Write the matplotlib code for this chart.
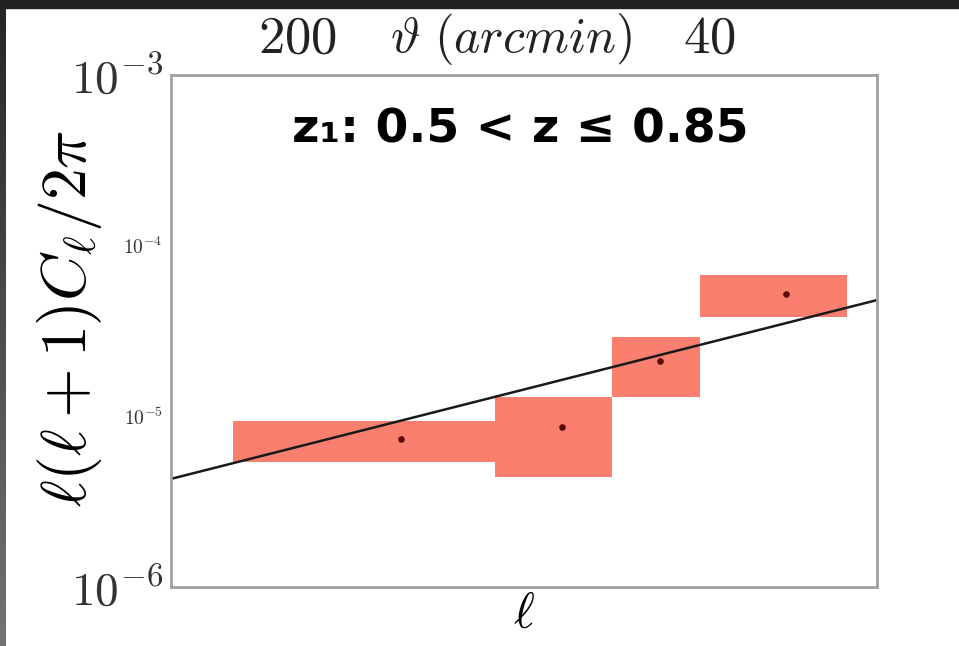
import matplotlib.pyplot as plt
import numpy as np

plt.rcParams['mathtext.fontset'] = 'cm'

# band-power bins in multipole ell
ell_edges = [42, 117, 185, 260, 463]
ell_centers = [81, 152, 223, 365]
cl_vals = [7.4e-6, 8.7e-6, 2.1e-5, 5.2e-5]
cl_lo = [5.4e-6, 4.4e-6, 1.3e-5, 3.8e-5]
cl_hi = [9.4e-6, 1.3e-5, 2.9e-5, 6.7e-5]

# theory curve
theory_ell = [33, 520]
theory_cl = [4.3e-6, 4.8e-5]

# top axis ticks (arcmin)
theta_ticks = [200, 40]

fig = plt.figure(figsize=(9.59, 6.46), dpi=100)
ax = fig.add_axes([171/959, 59/646, 706/959, 512/646])

# boxes
lefts = np.array(ell_edges[:-1])
widths = np.diff(ell_edges)
ax.bar(lefts, np.array(cl_hi) - np.array(cl_lo), bottom=cl_lo, width=widths,
       align='edge', color='#fa7f6f', edgecolor='none', zorder=1)
ax.scatter(ell_centers, cl_vals, s=14, color='#5a0a00', zorder=3)
ax.plot(theory_ell, theory_cl, color='#1a1a1a', lw=1.8, zorder=2)

ax.set_xscale('log')
ax.set_yscale('log')
ax.set_xlim(33, 520)
ax.set_ylim(1e-6, 1e-3)

ax.set_xticks([])
ax.set_xticks([], minor=True)
ax.set_yticks([1e-6, 1e-5, 1e-4, 1e-3])
ax.set_yticks([], minor=True)
ax.set_yticklabels([r'$10^{-6}$', r'$\mathbf{10^{-5}}$', r'$\mathbf{10^{-4}}$', r'$10^{-3}$'])
sizes = [34, 14, 14, 34]
for lab, s in zip(ax.get_yticklabels(), sizes):
    lab.set_fontsize(s)
    lab.set_color('#333333')
ax.tick_params(axis='y', length=0, pad=6)

for sp in ax.spines.values():
    sp.set_color('#a0a0a0')
    sp.set_linewidth(2)

ax.set_ylabel(r'$\ell(\ell+1)C_\ell/2\pi$', fontsize=46)
ax.yaxis.set_label_coords(-0.095, 0.525)
ax.set_xlabel(r'$\ell$', fontsize=36, labelpad=2)

# top axis in arcmin
sec = ax.secondary_xaxis('top', functions=(lambda l: 10800 / l, lambda t: 10800 / t))
sec.set_xticks(theta_ticks)
sec.set_xticks([], minor=True)
sec.set_xticklabels(['$%d$' % t for t in theta_ticks])
sec.tick_params(length=0, pad=8, labelsize=38)
for lab in sec.get_xticklabels():
    lab.set_color('#222222')
sec.spines['top'].set_visible(False)
ax.text(0.482, 1.07, r'$\vartheta\ (arcmin)$', transform=ax.transAxes,
        fontsize=36, ha='center', va='center', color='#222222')

ax.text(0.494, 0.893, 'z₁: 0.5 < z ≤ 0.85', transform=ax.transAxes,
        fontsize=34, fontweight='bold', ha='center', va='center',
        family='DejaVu Sans')

# dark border strips
fig.patches.append(plt.Rectangle((0, 1 - 8/646), 1, 8/646, transform=fig.transFigure,
                                 color='#222222', zorder=10))
gax = fig.add_axes([0, 0, 6/959, 1 - 8/646])
grad = np.linspace(0.15, 0.45, 100).reshape(-1, 1)
gax.imshow(grad, cmap='gray', aspect='auto', vmin=0, vmax=1, origin='upper')
gax.axis('off')

fig.savefig('out.png', dpi=100)
